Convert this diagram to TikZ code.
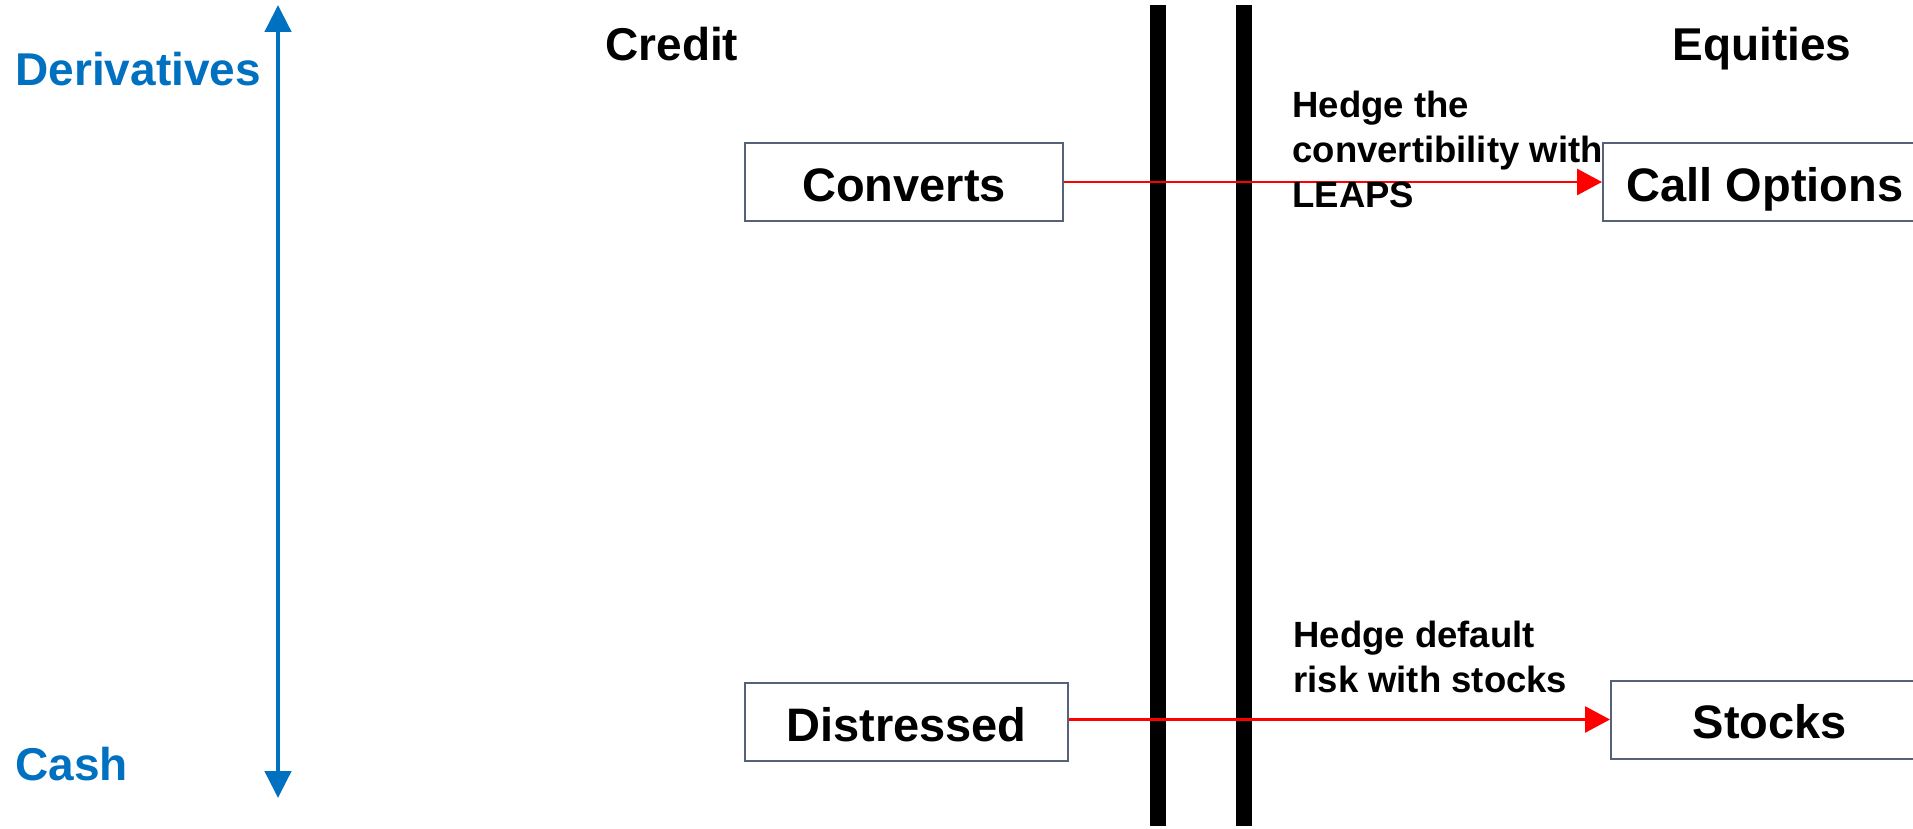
\documentclass[tikz,border=0pt]{standalone}
\usepackage{fontspec}
\setmainfont{Liberation Sans}
\usetikzlibrary{arrows.meta, positioning}
\definecolor{scaleblue}{HTML}{0070C0}
\definecolor{boxedge}{HTML}{56627A}
\definecolor{hedgered}{HTML}{FF0000}

\begin{document}
\begin{tikzpicture}[x=0.5pt, y=-0.5pt, font=\bfseries,
  asset/.style={draw=boxedge, line width=1pt, fill=white, minimum height=39pt, inner sep=0pt, text height=19pt, text depth=0pt, font=\fontsize{23.5}{28}\selectfont\bfseries},
  heading/.style={anchor=base west, inner sep=0pt, font=\fontsize{23}{28}\selectfont\bfseries},
  hedge/.style={hedgered, line width=1.4pt, -{Triangle[length=12.5pt, width=13pt]}},
  note/.style={anchor=base west, inner sep=0pt, align=left, font=\fontsize{18.25}{22.5}\selectfont\bfseries}]
  \useasboundingbox (0,0) rectangle (1913,829);
  % derivatives / cash scale
  \node[heading, scaleblue] (deriv) at (15,86) {Derivatives};
  \node[heading, scaleblue] (cash) at (15,780) {Cash};
  \coordinate (scaletop) at (278,5);
  \coordinate (scalebot) at (278,798);
  \draw[scaleblue, line width=2.35pt, {Triangle[length=13.5pt, width=13pt]}-{Triangle[length=13.5pt, width=13pt]}] (scaletop) -- (scalebot);
  % the wall between credit and equities
  \fill (1150,5) rectangle (1166,826);
  \fill (1236,5) rectangle (1252,826);
  \node[heading] (credit) at (605,61) {Credit};
  \node[heading] (equities) at (1672,61) {Equities};
  \node[asset, minimum width=159pt] (conv) at (904,182) {Converts};
  \node[asset, minimum width=161.5pt] (dist) at (906.5,722) {Distressed};
  \node[asset, minimum width=162pt] (call) at (1765,182) {Call Options};
  \node[asset, minimum width=159pt] (stocks) at (1770,719.5) {Stocks};
  \draw[hedge] (conv.east) -- (call.west);
  \draw[hedge] (dist.east |- stocks.west) -- (stocks.west);
  \node[note] (hedgeconv) at (1292,207) {Hedge the\\convertibility with\\LEAPS};
  \node[note] (hedgedist) at (1293,692) {Hedge default\\risk with stocks};
\end{tikzpicture}
\end{document}
